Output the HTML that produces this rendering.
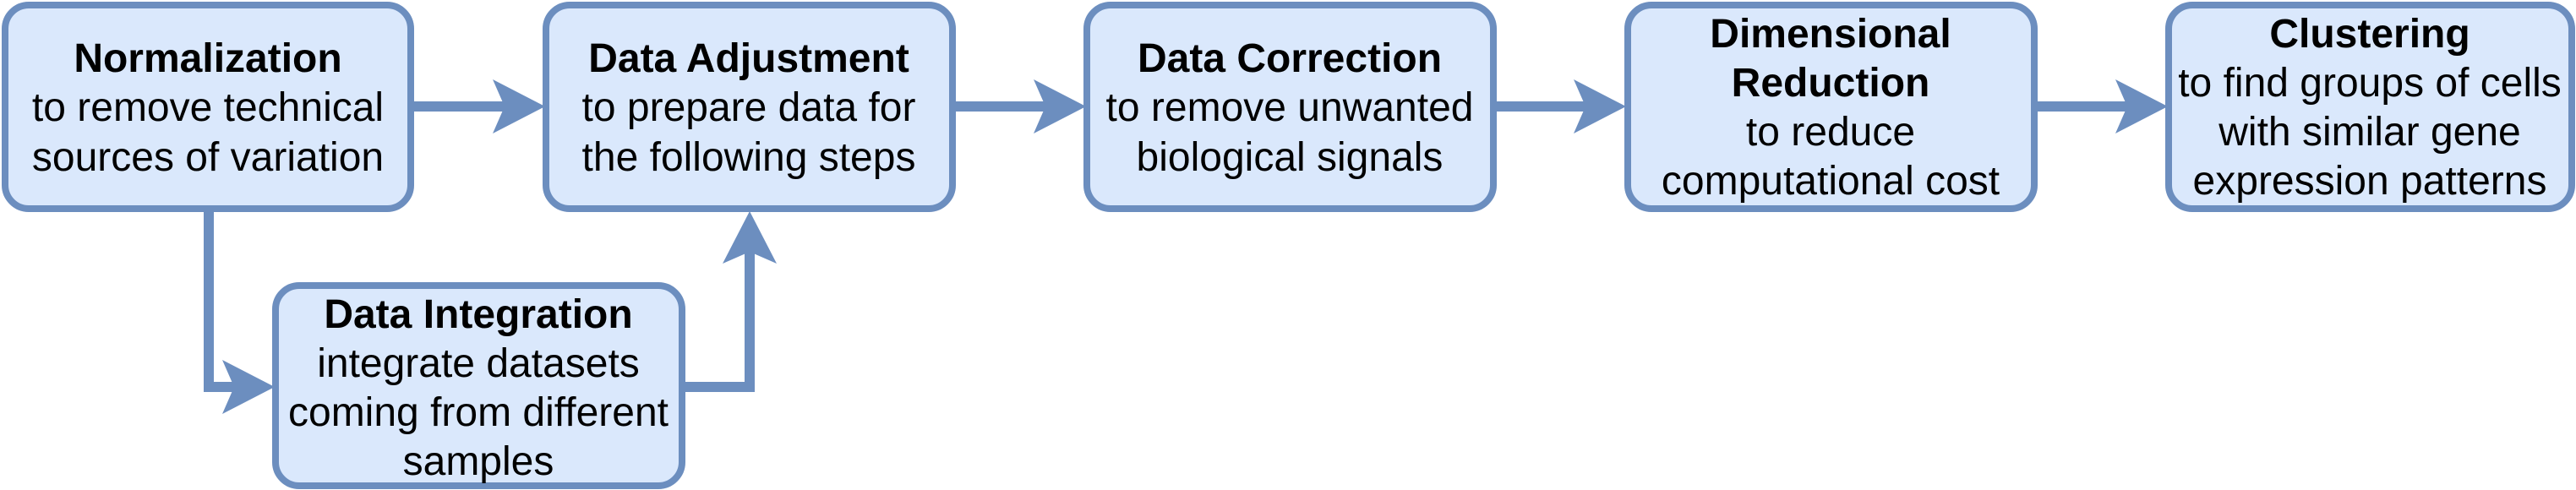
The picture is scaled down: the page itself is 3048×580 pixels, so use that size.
<!DOCTYPE html>
<html><head><meta charset="utf-8"><style>html,body{margin:0;padding:0;background:#fff;}svg{display:block}</style></head>
<body>
<svg width="3048" height="580" viewBox="0 0 3048 580" xmlns="http://www.w3.org/2000/svg">
<g fill="none" stroke="#6c8ebf" stroke-width="12">
<path d="M486 126 H600"/>
<path d="M1127 126 H1240"/>
<path d="M1767 126 H1880"/>
<path d="M2407 126 H2520"/>
<path d="M247 247 V458 H280"/>
<path d="M807 458 H887 V292"/>
</g>
<g fill="#6c8ebf">
<path d="M645 126 L583 94 L597 126 L583 158 Z"/>
<path d="M1285 126 L1223 94 L1237 126 L1223 158 Z"/>
<path d="M1924 126 L1862 94 L1876 126 L1862 158 Z"/>
<path d="M2565 126 L2503 94 L2517 126 L2503 158 Z"/>
<path d="M325 458 L263 426 L277 458 L263 490 Z"/>
<path d="M887 250 L855 312 L887 298 L919 312 Z"/>
</g>
<g fill="#dae8fc" stroke="#6c8ebf" stroke-width="8">
<rect x="6" y="6" width="480" height="241" rx="28"/>
<rect x="646" y="6" width="481" height="241" rx="28"/>
<rect x="1286" y="6" width="481" height="241" rx="28"/>
<rect x="1926" y="6" width="481" height="241" rx="28"/>
<rect x="2566" y="6" width="477" height="241" rx="28"/>
<rect x="326" y="338" width="481" height="237" rx="28"/>
</g>
<g font-family="Liberation Sans, Arial, sans-serif" font-size="48" text-anchor="middle" fill="#000">
<text x="246" y="85" font-weight="bold">Normalization</text>
<text x="246" y="143">to remove technical</text>
<text x="246" y="202">sources of variation</text>

<text x="886" y="85" font-weight="bold">Data Adjustment</text>
<text x="886" y="143">to prepare data for</text>
<text x="886" y="202">the following steps</text>

<text x="1526" y="85" font-weight="bold">Data Correction</text>
<text x="1526" y="143">to remove unwanted</text>
<text x="1526" y="202">biological signals</text>

<text x="2166" y="56" font-weight="bold">Dimensional</text>
<text x="2166" y="114" font-weight="bold">Reduction</text>
<text x="2166" y="172">to reduce</text>
<text x="2166" y="230">computational cost</text>

<text x="2804" y="56" font-weight="bold">Clustering</text>
<text x="2804" y="114">to find groups of cells</text>
<text x="2804" y="172">with similar gene</text>
<text x="2804" y="230">expression patterns</text>

<text x="566" y="388" font-weight="bold">Data Integration</text>
<text x="566" y="446">integrate datasets</text>
<text x="566" y="504">coming from different</text>
<text x="566" y="562">samples</text>
</g>
</svg>
</body></html>
